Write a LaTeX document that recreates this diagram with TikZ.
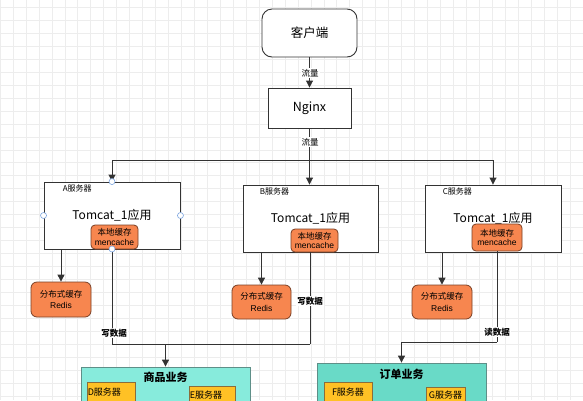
\documentclass[tikz,border=0pt]{standalone}
\usepackage{fontspec}
\setmainfont{Noto Sans CJK SC}
\newfontfamily\arialf{Liberation Sans}
\usetikzlibrary{arrows.meta,calc}
\definecolor{gridc}{HTML}{EDEDED}
\definecolor{linec}{HTML}{333333}
\definecolor{orangec}{HTML}{F7864F}
\definecolor{orangeb}{HTML}{7A4026}
\definecolor{yellowc}{HTML}{FFC125}
\definecolor{yellowb}{HTML}{8A6D3B}
\definecolor{tealA}{HTML}{87EBDC}
\definecolor{tealB}{HTML}{69DAC7}
\definecolor{tealb}{HTML}{5E8F88}
\definecolor{handlec}{HTML}{7EA6E0}
\tikzset{
  conn/.style={draw=linec, line width=0.9pt},
  arr/.style={conn, -{Triangle[length=7pt,width=7pt]}},
  whitebox/.style={draw=linec, fill=white, line width=0.9pt, inner sep=0pt},
  srvbox/.style={whitebox, font=\fontsize{12}{14}\selectfont},
  cachebox/.style={draw=orangeb, fill=orangec, rounded corners=4pt, line width=0.8pt, inner sep=0pt, align=center, font=\fontsize{8.5}{10.5}\selectfont},
  ylbox/.style={draw=yellowb, fill=yellowc, line width=0.8pt, inner sep=0pt},
  lbl/.style={fill=white, inner sep=1pt, font=\fontsize{8.5}{10}\selectfont},
  blbl/.style={fill=white, inner sep=1pt, font=\bfseries\fontsize{8.5}{10}\selectfont},
  small/.style={inner sep=0pt, font=\fontsize{8}{9}\selectfont},
  handle/.style={circle, draw=handlec, fill=white, line width=0.6pt, minimum size=6pt, inner sep=0pt},
}
\begin{document}
\begin{tikzpicture}[x=1pt,y=-1pt]
\useasboundingbox (0,0) rectangle (583,400);
\clip (0,0) rectangle (583,400);
\fill[white] (0,0) rectangle (583,400);
\foreach \i in {0,...,45} {
  \draw[gridc, line width=0.5pt] (\i*12.95,0) -- (\i*12.95,400);
}
\foreach \j in {0,...,31} {
  \draw[gridc, line width=0.5pt] (0,7.3+\j*12.95) -- (583,7.3+\j*12.95);
}

% top
\node[whitebox, rounded corners=10pt, minimum width=95pt, minimum height=48pt, font=\fontsize{12.5}{14}\selectfont] (client) at (309.5,33) {客户端};
\node[whitebox, minimum width=83pt, minimum height=40pt, font=\fontsize{12.5}{14}\selectfont] (nginx) at (309.5,108) {Nginx};

% servers
\node[srvbox, minimum width=136pt, minimum height=67pt] (A) at (112,215.5) {Tomcat\_1应用};
\node[srvbox, minimum width=135pt, minimum height=67pt] (B) at (310.5,218.5) {Tomcat\_1应用};
\node[srvbox, minimum width=136pt, minimum height=67pt] (C) at (493,218.5) {Tomcat\_1应用};
\node[small, anchor=west] (Alab) at ($(A.north west)+(19,7)$) {A服务器};
\node[small, anchor=west] (Blab) at ($(B.north west)+(17,7)$) {B服务器};
\node[small, anchor=west] (Clab) at ($(C.north west)+(18,7)$) {C服务器};

\node[cachebox, minimum width=47pt, minimum height=24pt] (cA) at (114.5,237) {本地缓存\\[-1pt]{\arialf mencache}};
\node[cachebox, minimum width=47pt, minimum height=23pt] (cB) at (314.5,240.5) {本地缓存\\[-1pt]{\arialf mencache}};
\node[cachebox, minimum width=50pt, minimum height=27pt] (cC) at (497,237.5) {本地缓存\\[-1pt]{\arialf mencache}};

\node[cachebox, rounded corners=6pt, minimum width=60pt, minimum height=35pt] (rA) at (61,299.5) {分布式缓存\\[1pt]{\arialf Redis}};
\node[cachebox, rounded corners=6pt, minimum width=59pt, minimum height=34pt] (rB) at (261.5,302) {分布式缓存\\[1pt]{\arialf Redis}};
\node[cachebox, rounded corners=6pt, minimum width=60pt, minimum height=34pt] (rC) at (442,302) {分布式缓存\\[1pt]{\arialf Redis}};

% business boxes
\node[draw=tealb, fill=tealA, line width=0.8pt, minimum width=169pt, minimum height=60pt, inner sep=0pt] (shop) at (165.5,397) {};
\node[font=\bfseries\fontsize{11}{13}\selectfont, inner sep=0pt] (shopT) at ($(shop.north)+(0,11)$) {商品业务};
\node[draw=tealb, fill=tealB, line width=0.8pt, minimum width=169pt, minimum height=60pt, inner sep=0pt] (order) at (401.5,393) {};
\node[font=\bfseries\fontsize{11}{13}\selectfont, inner sep=0pt] (orderT) at ($(order.north)+(0,12)$) {订单业务};

\node[ylbox, minimum width=48pt, minimum height=30pt] (D) at (111,397) {};
\node[small, font=\fontsize{9}{10}\selectfont, anchor=west] at ($(D.north west)+(1,10)$) {D服务器};
\node[ylbox, minimum width=46pt, minimum height=30pt] (E) at (212,401) {};
\node[small, font=\fontsize{9}{10}\selectfont, anchor=west] at ($(E.north west)+(1,9)$) {E服务器};
\node[ylbox, minimum width=48pt, minimum height=30pt] (F) at (348,397) {};
\node[small, font=\fontsize{9}{10}\selectfont, anchor=center] at ($(F.north)+(0,10)$) {F服务器};
\node[ylbox, minimum width=39pt, minimum height=30pt] (G) at (445.5,402) {};
\node[small, font=\fontsize{9}{10}\selectfont, anchor=center] at ($(G.north)+(0,8)$) {G服务器};

% connectors top
\draw[arr] (client.south) -- (nginx.north);
\node[lbl] (fl1) at (310,73) {流量};
\coordinate (split) at (309.5,160);
\draw[conn] (nginx.south) -- (split);
\draw[arr] (split) -- (split |- B.north);
\draw[arr] (split) -| (A.north);
\draw[arr] (split) -| (C.north);
\node[lbl] (fl2) at (310,142) {流量};

% to redis
\draw[arr] (A.south -| rA.north) -- (rA.north);
\draw[arr] (B.south -| rB.north) -- (rB.north);
\draw[arr] (C.south -| rC.north) -- (rC.north);

% write / read data
\coordinate (mAB) at (310,344);
\coordinate (cAout) at (112,249);
\draw[conn] (cAout) |- (mAB);
\draw[conn] (B.south -| mAB) -- (mAB);
\draw[arr] (shop.north |- mAB) -- (shop.north);
\node[blbl] (w1) at (114,333) {写数据};
\node[blbl] (w2) at (310,301) {写数据};

\coordinate (mC) at (497,342);
\draw[conn] (cC.south) -- (mC);
\draw[arr] (mC) -| (order.north);
\node[blbl] (r1) at (497,332) {读数据};

% handles
\node[handle] (h1) at (A.north) {};
\node[handle] (h2) at (A.west) {};
\node[handle] (h3) at (A.east) {};
\node[handle] (h4) at (cAout) {};
\end{tikzpicture}
\end{document}
